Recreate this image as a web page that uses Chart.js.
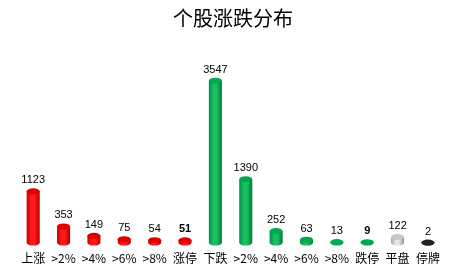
<!DOCTYPE html>
<html><head><meta charset="utf-8">
<script src="https://cdn.jsdelivr.net/npm/chart.js@4/dist/chart.umd.min.js"></script>
<style>html,body{margin:0;padding:0;background:#fff}#wrap{width:449px;height:277px}</style>
</head><body><div id="wrap"><canvas id="c" width="449" height="277"></canvas></div>
<script>
const categories = ["上涨", ">2%", ">4%", ">6%", ">8%", "涨停", "下跌", ">2%", ">4%", ">6%", ">8%", "跌停", "平盘", "停牌"];
const values = [1123, 353, 149, 75, 54, 51, 3547, 1390, 252, 63, 13, 9, 122, 2];
const boldLabels = [false, false, false, false, false, true, false, false, false, false, false, true, false, false];
const groupColors = ["red","red","red","red","red","red","green","green","green","green","green","green","grey","black"];

const palette = {
  red:   {mid:"#ff1a1a", edge:"#c80000", top:"#e00000", dark:"#b00000"},
  green: {mid:"#19c060", edge:"#00904a", top:"#00a850", dark:"#007a3a"},
  grey:  {mid:"#e6e6e6", edge:"#a0a0a0", top:"#c8c8c8", dark:"#909090"},
  black: {mid:"#444444", edge:"#111111", top:"#222222", dark:"#000000"}
};

const cylinder = {
  id: "cylinder",
  afterDatasetsDraw(chart) {
    const ctx = chart.ctx;
    const meta = chart.getDatasetMeta(0);
    meta.data.forEach((bar, i) => {
      const p = palette[groupColors[i]];
      const w = bar.width, x0 = bar.x - w/2, x1 = bar.x + w/2;
      const top = bar.y, base = bar.base;
      const ry = 3;
      ctx.save();
      const g = ctx.createLinearGradient(x0, 0, x1, 0);
      g.addColorStop(0, p.edge);
      g.addColorStop(0.35, p.mid);
      g.addColorStop(0.6, p.mid);
      g.addColorStop(1, p.dark);
      ctx.beginPath();
      ctx.moveTo(x0, top);
      ctx.lineTo(x0, base);
      ctx.ellipse(bar.x, base, w/2, ry, 0, Math.PI, 0, true);
      ctx.lineTo(x1, top);
      ctx.closePath();
      ctx.fillStyle = g;
      ctx.fill();
      ctx.beginPath();
      ctx.ellipse(bar.x, top, w/2, ry, 0, 0, Math.PI*2);
      ctx.fillStyle = p.top;
      ctx.fill();
      ctx.fillStyle = "#000";
      ctx.font = (boldLabels[i] ? "bold " : "") + "11px 'Liberation Sans', 'DejaVu Sans', sans-serif";
      ctx.textAlign = "center";
      ctx.textBaseline = "alphabetic";
      ctx.fillText(String(values[i]), bar.x, top - 8);
      ctx.restore();
    });
  }
};

new Chart(document.getElementById("c"), {
  type: "bar",
  data: {
    labels: categories,
    datasets: [{
      data: values,
      backgroundColor: "rgba(0,0,0,0)",
      borderWidth: 0,
      barPercentage: 0.43,
      categoryPercentage: 1.0
    }]
  },
  options: {
    responsive: false,
    animation: false,
    devicePixelRatio: 1,
    layout: {padding: {left: 18, right: 1, top: 2, bottom: 2}},
    plugins: {
      legend: {display: false},
      tooltip: {enabled: false},
      title: {
        display: true,
        text: "个股涨跌分布",
        color: "#000",
        font: {family: "'Noto Sans CJK SC', sans-serif", size: 20, weight: "normal"},
        padding: {top: 4, bottom: 14}
      }
    },
    scales: {
      x: {
        grid: {display: false, drawTicks: false},
        border: {display: false},
        ticks: {color: "#000", font: {family: "'Noto Sans CJK SC', sans-serif", size: 12}, padding: 9, maxRotation: 0, autoSkip: false}
      },
      y: {display: false, min: 0, max: 4350}
    }
  },
  plugins: [cylinder]
});
</script></body></html>
